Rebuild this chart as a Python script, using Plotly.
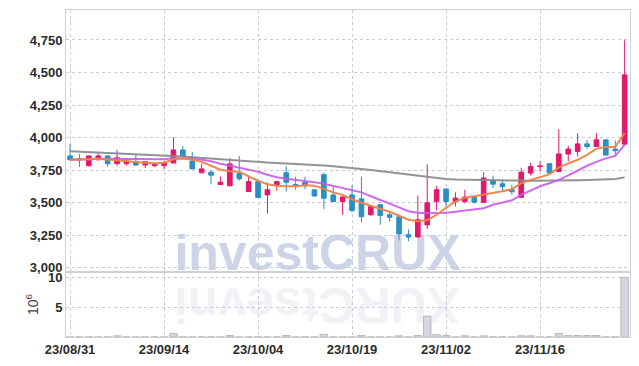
import plotly.graph_objects as go
from plotly.subplots import make_subplots

dates = ["23/08/31","23/09/01","23/09/04","23/09/05","23/09/06","23/09/07","23/09/08","23/09/11","23/09/12","23/09/13",
         "23/09/14","23/09/15","23/09/18","23/09/19","23/09/20","23/09/21","23/09/22","23/09/25","23/09/26","23/09/27",
         "23/10/04","23/10/05","23/10/06","23/10/10","23/10/11","23/10/12","23/10/13","23/10/16","23/10/17","23/10/18",
         "23/10/19","23/10/20","23/10/23","23/10/24","23/10/25","23/10/26","23/10/27","23/10/30","23/10/31","23/11/01",
         "23/11/02","23/11/03","23/11/06","23/11/07","23/11/08","23/11/09","23/11/10","23/11/13","23/11/14","23/11/15",
         "23/11/16","23/11/17","23/11/20","23/11/21","23/11/22","23/11/23","23/11/24","23/11/27","23/11/28","23/11/29"]

open_ = [3860,3840,3785,3830,3860,3800,3800,3815,3790,3785,
         3785,3805,3905,3820,3730,3735,3640,3630,3725,3587,
         3662,3560,3640,3730,3640,3658,3600,3716,3560,3510,
         3560,3530,3408,3485,3408,3392,3255,3237,3330,3510,
         3606,3510,3510,3542,3504,3670,3646,3600,3542,3728,
         3778,3800,3740,3874,3893,3952,3932,3983,3912,3950]
high = [3952,3875,3860,3885,3860,3906,3835,3868,3815,3810,
        3815,4003,3937,3890,3800,3750,3701,3842,3860,3700,
        3662,3655,3670,3780,3700,3700,3600,3732,3625,3548,
        3634,3701,3480,3485,3432,3410,3295,3556,3795,3630,
        3606,3580,3600,3555,3734,3708,3678,3639,3768,3804,
        3817,3805,4065,3937,4034,3983,4034,3983,3978,4748]
low = [3830,3775,3778,3825,3775,3785,3785,3785,3767,3775,
       3759,3805,3855,3759,3728,3644,3638,3628,3670,3587,
       3540,3416,3592,3587,3600,3605,3548,3452,3510,3407,
       3425,3351,3400,3331,3357,3211,3205,3237,3300,3440,
       3472,3472,3495,3495,3495,3613,3587,3561,3540,3709,
       3740,3728,3735,3817,3855,3912,3932,3863,3860,3950]
close = [3830,3830,3860,3860,3800,3845,3820,3790,3815,3795,
         3810,3905,3855,3760,3760,3712,3658,3798,3684,3662,
         3540,3600,3662,3657,3635,3630,3552,3535,3510,3545,
         3441,3393,3472,3403,3389,3261,3237,3370,3500,3600,
         3510,3536,3543,3504,3690,3643,3625,3585,3735,3778,
         3782,3728,3875,3912,3952,3932,3983,3866,3900,4482]

ma5 = [3830,3830,3834,3837,3830,3826,3818,3811,3807,3803,
       3807,3834,3841,3830,3814,3784,3753,3742,3738,3703,
       3669,3642,3630,3627,3627,3634,3630,3607,3580,3561,
       3527,3500,3477,3458,3431,3400,3370,3358,3366,3408,
       3462,3508,3539,3550,3561,3577,3588,3604,3650,3676,
       3699,3718,3772,3799,3830,3868,3915,3929,3929,4035]
ma20 = [3830,3830,3834,3837,3837,3837,3837,3835,3834,3834,
        3834,3841,3841,3837,3830,3818,3799,3784,3772,3753,
        3738,3715,3696,3684,3676,3669,3657,3646,3630,3615,
        3600,3580,3550,3523,3492,3465,3435,3423,3419,3419,
        3423,3431,3439,3446,3458,3485,3504,3519,3561,3596,
        3627,3650,3676,3711,3749,3784,3814,3841,3860,3945]
ma_long = [3896,3893,3890,3887,3884,3881,3878,3875,3872,3868,
           3864,3860,3855,3850,3845,3840,3833,3827,3821,3815,
           3812,3809,3806,3803,3800,3796,3791,3786,3780,3775,
           3768,3760,3752,3743,3735,3727,3718,3708,3698,3688,
           3682,3679,3677,3676,3675,3673,3672,3671,3670,3669,
           3669,3670,3671,3672,3673,3675,3677,3680,3683,3695]

volume_m = [0.01,0.01,0.01,0.01,0.01,0.2,0.01,0.01,0.01,0.01,
            0.01,0.6,0.01,0.01,0.01,0.01,0.01,0.25,0.01,0.01,
            0.01,0.01,0.01,0.25,0.01,0.01,0.01,0.45,0.01,0.01,
            0.01,0.25,0.01,0.01,0.01,0.2,0.01,0.25,3.5,0.4,
            0.25,0.01,0.2,0.01,0.2,0.01,0.01,0.01,0.2,0.2,
            0.01,0.01,0.6,0.25,0.25,0.25,0.25,0.01,0.01,10.0]

date_ticks = ["23/08/31","23/09/14","23/10/04","23/10/19","23/11/02","23/11/16"]
price_ticks = [3000,3250,3500,3750,4000,4250,4500,4750]
price_tick_text = ["3,000","3,250","3,500","3,750","4,000","4,250","4,500","4,750"]

UP = "#E3186C"
DOWN = "#2A8FC4"
FONT = "Liberation Sans, Arial, sans-serif"
TICKFONT = dict(family=FONT, size=13, color="#2b2b2b", weight="bold")
GRID = "#c9cad8"
FRAME = "#cfd0da"

fig = make_subplots(rows=2, cols=1, shared_xaxes=True, vertical_spacing=0,
                    row_heights=[0.801, 0.199])

fig.add_trace(go.Candlestick(x=dates, open=open_, high=high, low=low, close=close,
                             increasing=dict(line=dict(color=UP, width=1), fillcolor=UP),
                             decreasing=dict(line=dict(color=DOWN, width=1), fillcolor=DOWN),
                             whiskerwidth=0, showlegend=False, hoverinfo="skip"),
              row=1, col=1)
fig.add_trace(go.Scatter(x=dates, y=ma_long, mode="lines", line=dict(color="#888888", width=2),
                         opacity=0.9, showlegend=False), row=1, col=1)
fig.add_trace(go.Scatter(x=dates, y=ma20, mode="lines", line=dict(color="#C95BEA", width=2),
                         opacity=0.9, showlegend=False), row=1, col=1)
fig.add_trace(go.Scatter(x=dates, y=ma5, mode="lines", line=dict(color="#EF8347", width=2),
                         opacity=0.95, showlegend=False), row=1, col=1)

fig.add_trace(go.Bar(x=dates, y=volume_m, marker=dict(color="#d6d6dc", line=dict(color="#b9b9c2", width=1)),
                     width=0.8, showlegend=False), row=2, col=1)

xcommon = dict(type="category", tickvals=date_ticks, range=[-0.43, 59.57],
               showgrid=True, gridcolor=GRID, griddash="dot", gridwidth=1,
               showline=True, linecolor=FRAME, linewidth=1, mirror=True,
               rangeslider=dict(visible=False), ticks="", zeroline=False, automargin=False)
fig.update_xaxes(**xcommon)
fig.update_xaxes(showticklabels=False, row=1, col=1)
fig.update_xaxes(showticklabels=True, tickfont=TICKFONT, row=2, col=1)

fig.update_yaxes(range=[2969, 4980], tickvals=price_ticks, ticktext=price_tick_text,
                 showgrid=True, gridcolor=GRID, griddash="dot", gridwidth=1,
                 showline=True, linecolor=FRAME, linewidth=1, mirror=True, zeroline=False,
                 tickfont=TICKFONT, ticks="", automargin=False,
                 row=1, col=1)
fig.update_yaxes(range=[0, 10.9], tickvals=[5, 10], ticktext=["5", "10"],
                 showgrid=True, gridcolor=GRID, griddash="dot", gridwidth=1,
                 showline=True, linecolor=FRAME, linewidth=1, mirror=True, zeroline=False,
                 tickfont=TICKFONT, ticks="", automargin=False,
                 title=dict(text="10<sup>6</sup>", font=dict(family=FONT, size=14, color="#444"),
                            standoff=6),
                 row=2, col=1)

# watermark, drawn below the traces as a shape label
fig.add_shape(type="rect", xref="paper", yref="paper", x0=0.0, x1=0.892, y0=0.187, y1=0.40,
              line=dict(width=0), fillcolor="rgba(0,0,0,0)", layer="below",
              label=dict(text="<b>investCRUX</b>", textposition="bottom center",
                         padding=0,
                         font=dict(family="Liberation Sans, Arial, sans-serif", size=50,
                                   color="rgba(165,176,212,0.55)")))
# its faint reflection
fig.add_annotation(text="<b>XURCtsevni</b>", xref="paper", yref="paper", x=0.446, y=0.19,
                   xanchor="center", yanchor="top", showarrow=False, textangle=180,
                   font=dict(family="Liberation Sans, Arial, sans-serif", size=50,
                             color="rgba(200,202,218,0.25)"))

# page has an 8px body margin, so the figure is drawn 8px in from the window edge
fig.update_layout(width=631, height=358, margin=dict(l=58, r=9, t=2, b=29, autoexpand=False),
                  paper_bgcolor="white", plot_bgcolor="white", bargap=0.3,
                  hovermode=False)

fig.write_html("out.html")
